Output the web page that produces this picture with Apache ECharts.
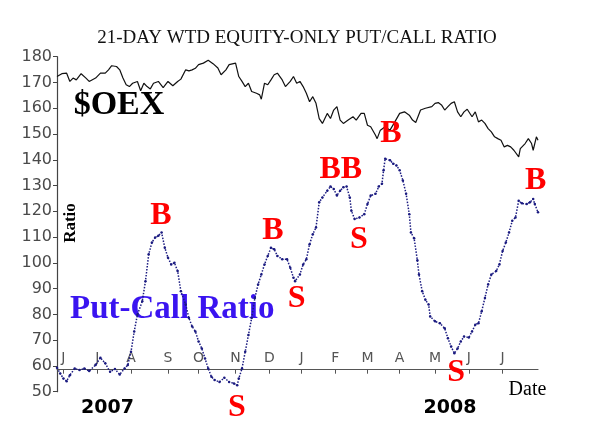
<!DOCTYPE html>
<html>
<head>
<meta charset="utf-8">
<script src="https://cdn.jsdelivr.net/npm/echarts@6/dist/echarts.min.js"></script>
<style>
html,body{margin:0;padding:0;background:#fff;}
#chart{width:595px;height:446px;}
</style>
</head>
<body>
<div id="chart"></div>
<script>
// x = trading-day index (0 = late May 2007)
var monthTicks = [4, 25, 46, 69, 88, 111, 132, 152, 173, 193, 213, 235, 256, 277];
var monthLabels = ['J','J','A','S','O','N','D','J','F','M','A','M','J','J'];
var yTicks = [50, 180, 10]; // min, max, step

var pcDays = [0,2,4,6,8,11,14,17,20,24,27,30,33,36,39,42,44,46,48,50,53,55,57,59,61,63,65,67,69,71,73,75,77,80,82,84,86,88,90,92,94,96,98,101,104,107,110,112,113,115,117,119,121,123,125,127,129,131,133,135,137,140,143,145,147,148,151,153,155,157,159,161,163,165,168,170,172,174,176,178,180,182,183,185,188,191,193,195,198,200,202,203,204,207,209,211,213,215,217,219,220,222,224,225,227,229,231,232,235,238,241,243,245,247,249,251,253,256,258,260,262,264,266,268,270,273,275,277,279,281,283,285,287,289,292,294,296,297,299];
var pcValues = [59.3,57.1,55.1,54.1,56.4,59,58.4,59,58,60.4,63.2,61,57.7,58.8,56.7,59,60.4,65.5,73.4,79.9,85.1,92.9,103.3,107.9,109.8,110.5,111.8,105.9,102,99.4,100,96.8,89,83.8,78.6,75.3,73.4,69.5,66.8,62.9,59,55.8,54.5,53.8,55.4,53.8,53.2,52.5,55.1,59,65.5,72,78.6,86.4,91.6,95.5,99.4,102.7,105.9,105.3,102.7,101.4,101.4,98.1,94.2,92.9,95.5,99.4,101.4,107.2,111.1,113.7,123.5,125.4,128,129.6,128.7,126.1,128,129.3,129.6,125.4,120.2,117,117.6,118.9,122.8,126.1,126.8,129.6,130.7,135.9,140.4,139.8,138.5,137.8,135.9,132,126.8,118.9,111.8,109.5,101,95.5,89,85.7,83.8,79.2,77.3,76.6,74.6,70.7,67.5,64.9,66.8,69.5,71.4,71,73.4,76,76.6,81.2,86.4,91.6,95.5,96.8,99.4,104.6,107.9,111.8,116.3,117.6,124.1,123.1,122.8,123.5,124.8,122.8,119.6];

var oexDays = [0,3,6,8,10,12,15,18,20,24,27,30,32,34,37,39,41,43,45,47,50,52,54,56,58,60,63,66,69,72,75,77,80,82,84,86,88,91,94,97,100,102,105,107,111,113,115,117,119,121,124,126,127,129,131,133,135,137,140,142,145,147,149,151,153,155,157,159,161,163,165,168,170,172,174,176,178,181,184,186,189,191,193,195,198,199,201,204,207,210,213,216,219,221,223,226,229,233,235,237,239,241,243,245,247,249,251,253,255,258,260,262,264,266,268,270,272,274,276,278,280,282,284,287,288,291,293,295,296,298,299];
var oexValues = [172.3,173.4,173.6,170.4,171.7,171,173.4,171.7,170.4,171.7,173.6,173.6,174.9,176.5,176.2,174.9,171.7,169.1,168.4,169.7,170.4,166.8,169.7,168.4,167.5,169.7,170.4,168,170.4,168.7,170.4,171.3,174.9,174.5,174.9,175.5,176.9,177.5,178.6,177.3,175.6,173,174.9,176.9,177.5,172.3,170.4,168.4,169.7,166.5,165.8,165.2,163.5,169.7,169.1,171,173,173.6,171,168.4,170.4,172.3,169.7,170.4,168.4,165.8,162.5,164.5,161.9,156,154.1,158,156,159.3,160.6,155.4,154.1,155.4,156.7,155.4,158,158,153.4,152.8,149.5,148.2,151.5,152.8,151.5,154.7,158,158.6,157.3,155.4,154.5,159.3,160,160.6,161.9,162.2,161.3,159.3,160.6,161.9,162.5,158.6,156.7,158.6,159.6,156.7,158.6,154.7,155.4,154.1,152.1,150.8,148.9,148.2,147.6,145,145.6,145,143.7,141.1,144.3,146.3,148.2,146.3,143.7,148.9,147.6];

var signalDays = [64.6, 134.2, 111.8, 149, 176.4, 187.6, 207.5, 248.1, 297.5];
var signalValues = [118.3, 112.4, 43.7, 85.9, 136.3, 108.9, 150.3, 57.3, 132];
var signalLabels = ['B', 'B', 'S', 'S', 'BB', 'S', 'B', 'S', 'B'];

function pairs(xs, ys) { return xs.map(function (x, i) { return [x, ys[i]]; }); }

var chart = echarts.init(document.getElementById('chart'), null, {renderer: 'canvas'});
chart.setOption({
  animation: false,
  backgroundColor: '#ffffff',
  grid: {left: 57, top: 56.7, width: 481, height: 335},
  xAxis: {
    type: 'value', min: 0, max: 299, position: 'bottom', offset: -22,
    axisLine: {show: true, onZero: false, lineStyle: {color: '#555', width: 1.2}},
    axisTick: {show: true, customValues: monthTicks, length: 4, lineStyle: {color: '#555'}},
    axisLabel: {
      show: true, inside: true, customValues: monthTicks, margin: 4,
      fontFamily: 'DejaVu Sans', fontSize: 14, color: '#555',
      formatter: function (v) { var i = monthTicks.indexOf(v); return i >= 0 ? monthLabels[i] : ''; }
    },
    splitLine: {show: false}
  },
  yAxis: {
    type: 'value', min: yTicks[0], max: yTicks[1], interval: yTicks[2],
    axisLine: {show: true, lineStyle: {color: '#444', width: 1.2}},
    axisTick: {show: true, length: 4, lineStyle: {color: '#444'}},
    axisLabel: {fontFamily: 'DejaVu Sans', fontSize: 16, color: '#4a4a4a', margin: 5},
    splitLine: {show: false}
  },
  series: [
    {
      name: 'OEX', type: 'line', data: pairs(oexDays, oexValues),
      showSymbol: false, symbol: 'none',
      lineStyle: {color: '#111', width: 1.2}
    },
    {
      name: 'Put-Call Ratio', type: 'line', data: pairs(pcDays, pcValues),
      symbol: 'circle', symbolSize: 2.5, showSymbol: true,
      itemStyle: {color: '#1a1a80'},
      lineStyle: {color: '#1a1a80', width: 1.5, type: 'dotted'}
    }
  ]
});

// signal annotations placed through the chart's own scales
var graphics = [
  {type: 'text', x: 297, y: 38, style: {text: '21-DAY WTD EQUITY-ONLY PUT/CALL RATIO', font: '19px "Liberation Serif"', fill: '#111', textAlign: 'center', textVerticalAlign: 'middle'}},
  {type: 'text', x: 119, y: 105, style: {text: '$OEX', font: 'bold 34px "Liberation Serif"', fill: '#000', textAlign: 'center', textVerticalAlign: 'middle'}},
  {type: 'text', x: 70, y: 309.5, style: {text: 'Put-Call Ratio', font: 'bold 33px "Liberation Serif"', fill: '#3a14f0', textAlign: 'left', textVerticalAlign: 'middle'}},
  {type: 'text', x: 71, y: 223, rotation: Math.PI / 2, style: {text: 'Ratio', font: 'bold 17px "Liberation Serif"', fill: '#000', textAlign: 'center', textVerticalAlign: 'middle'}},
  {type: 'text', x: 107.5, y: 408.5, style: {text: '2007', font: 'bold 19px "DejaVu Sans"', fill: '#000', textAlign: 'center', textVerticalAlign: 'middle'}},
  {type: 'text', x: 450, y: 408.5, style: {text: '2008', font: 'bold 19px "DejaVu Sans"', fill: '#000', textAlign: 'center', textVerticalAlign: 'middle'}},
  {type: 'text', x: 527.5, y: 390, style: {text: 'Date', font: '20px "Liberation Serif"', fill: '#000', textAlign: 'center', textVerticalAlign: 'middle'}}
];
signalDays.forEach(function (d, i) {
  var p = chart.convertToPixel({gridIndex: 0}, [d, signalValues[i]]);
  graphics.push({type: 'text', x: p[0], y: p[1], z: 10, style: {text: signalLabels[i], font: 'bold 32px "Liberation Serif"', fill: '#ff0000', textAlign: 'center', textVerticalAlign: 'middle'}});
});
chart.setOption({graphic: graphics});
</script>
</body>
</html>
